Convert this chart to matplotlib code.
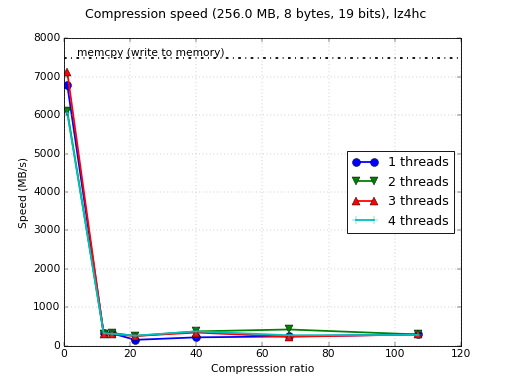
import matplotlib
matplotlib.use('Agg')
import matplotlib.pyplot as plt

plt.style.use('classic')

ratio = [1.0, 12.0, 14.5, 21.5, 40.0, 68.0, 107.0]
speed_1 = [6780, 330, 320, 150, 215, 240, 290]
speed_2 = [6100, 310, 330, 250, 370, 420, 290]
speed_3 = [7120, 290, 300, 250, 340, 230, 290]
speed_4 = [6050, 320, 310, 260, 370, 270, 280]
memcpy_speed = 7480

fig = plt.figure(figsize=(8, 6), dpi=64)
ax = fig.add_subplot(111)

ax.plot(ratio, speed_1, 'b-o', lw=2, ms=9, label='1 threads')
ax.plot(ratio, speed_2, 'g-v', lw=2, ms=9, label='2 threads')
ax.plot(ratio, speed_3, 'r-^', lw=2, ms=9, label='3 threads')
ax.plot(ratio, speed_4, 'c-+', lw=2, ms=9, label='4 threads')

ax.axhline(memcpy_speed, color='k', ls='-.', lw=2)
ax.text(4, memcpy_speed + 60, 'memcpy (write to memory)', fontsize=12)

ax.set_xlim(0, 120)
ax.set_ylim(0, 8000)
ax.grid(True, color='0.55')
ax.set_xlabel('Compresssion ratio')
ax.set_ylabel('Speed (MB/s)')
ax.legend(loc='center right')
fig.suptitle('Compression speed (256.0 MB, 8 bytes, 19 bits), lz4hc', fontsize=14)

fig.savefig('out.png', dpi=64)
